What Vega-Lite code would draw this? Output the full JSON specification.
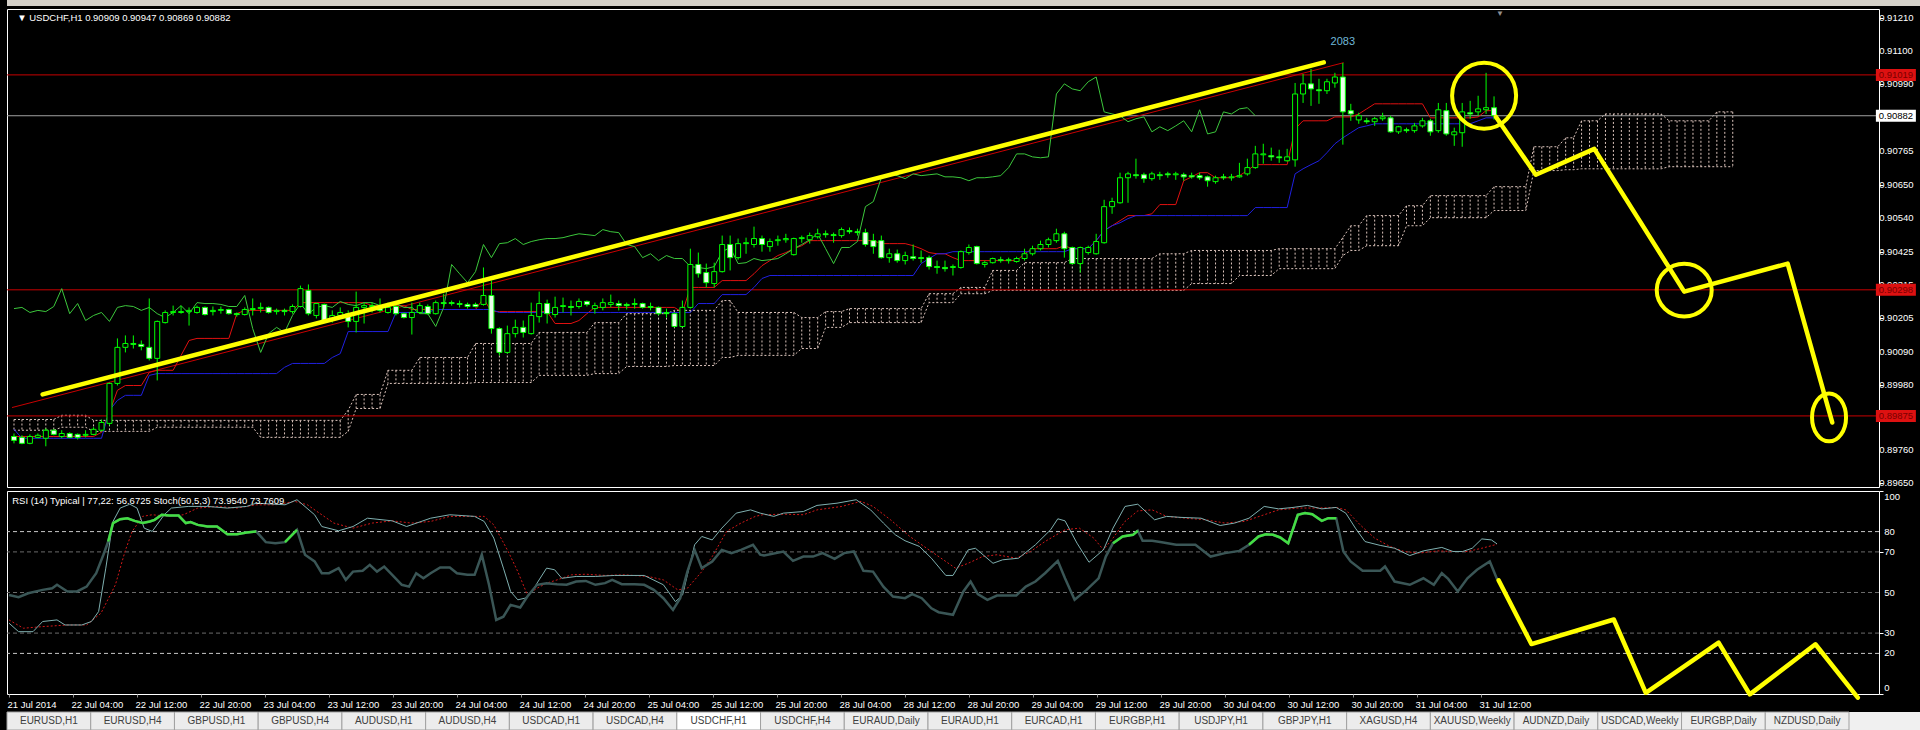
{
  "$schema": "https://vega.github.io/schema/vega-lite/v6.json",
  "description": "USDCHF H1 with Ichimoku, RSI and Stochastic, plus hand-drawn yellow annotations",
  "background": "#000000",
  "padding": {"left": 3, "top": 0, "right": 0, "bottom": 0},
  "spacing": 2,
  "config": {
    "view": {"stroke": null},
    "axis": {"labelFont": "Liberation Sans", "labelFontSize": 9.5, "labelColor": "#ffffff", "domain": false, "grid": false, "labelOverlap": false, "labelBound": false},
    "text": {"font": "Liberation Sans"}
  },
  "datasets": {
    "bars": [
      {"i":0,"o":0.89806,"h":0.89816,"l":0.89783,"c":0.89793,"tk":0.89806,"kj":0.8983,"ck":0.90235},
      {"i":1,"o":0.89803,"h":0.8981,"l":0.8978,"c":0.89783,"tk":0.89806,"kj":0.898,"ck":0.90239},
      {"i":2,"o":0.89783,"h":0.89813,"l":0.8978,"c":0.89806,"tk":0.89806,"kj":0.898,"ck":0.90222},
      {"i":3,"o":0.89803,"h":0.89816,"l":0.898,"c":0.8981,"tk":0.89806,"kj":0.898,"ck":0.90229},
      {"i":4,"o":0.898,"h":0.89833,"l":0.89773,"c":0.89827,"tk":0.89806,"kj":0.898,"ck":0.90225},
      {"i":5,"o":0.89827,"h":0.8983,"l":0.8981,"c":0.89813,"tk":0.89806,"kj":0.898,"ck":0.90242},
      {"i":6,"o":0.89806,"h":0.89827,"l":0.898,"c":0.89816,"tk":0.89806,"kj":0.898,"ck":0.90302},
      {"i":7,"o":0.89816,"h":0.8982,"l":0.898,"c":0.89803,"tk":0.89806,"kj":0.898,"ck":0.90218},
      {"i":8,"o":0.89813,"h":0.89816,"l":0.89796,"c":0.89803,"tk":0.89806,"kj":0.898,"ck":0.90252},
      {"i":9,"o":0.8981,"h":0.89827,"l":0.89803,"c":0.89813,"tk":0.89806,"kj":0.898,"ck":0.90195},
      {"i":10,"o":0.89813,"h":0.89837,"l":0.8981,"c":0.8983,"tk":0.89806,"kj":0.898,"ck":0.90212},
      {"i":11,"o":0.89827,"h":0.89863,"l":0.89823,"c":0.89853,"tk":0.8982,"kj":0.898,"ck":0.90222},
      {"i":12,"o":0.8985,"h":0.89987,"l":0.89843,"c":0.89984,"tk":0.89887,"kj":0.89894,"ck":0.90192},
      {"i":13,"o":0.89984,"h":0.90135,"l":0.89977,"c":0.90105,"tk":0.89961,"kj":0.89927,"ck":0.90239},
      {"i":14,"o":0.90105,"h":0.90145,"l":0.90088,"c":0.90118,"tk":0.89977,"kj":0.89944,"ck":0.90245},
      {"i":15,"o":0.90118,"h":0.90145,"l":0.90101,"c":0.90115,"tk":0.89977,"kj":0.89944,"ck":0.90242},
      {"i":16,"o":0.90115,"h":0.90128,"l":0.90095,"c":0.90108,"tk":0.89977,"kj":0.89944,"ck":0.90229},
      {"i":17,"o":0.90105,"h":0.90269,"l":0.90061,"c":0.90068,"tk":0.90021,"kj":0.90011,"ck":0.90239},
      {"i":18,"o":0.90068,"h":0.90195,"l":0.89994,"c":0.90192,"tk":0.90028,"kj":0.90017,"ck":0.90218},
      {"i":19,"o":0.90188,"h":0.90229,"l":0.90185,"c":0.90222,"tk":0.90028,"kj":0.90017,"ck":0.90205},
      {"i":20,"o":0.90222,"h":0.90245,"l":0.90212,"c":0.90225,"tk":0.90028,"kj":0.90017,"ck":0.90222},
      {"i":21,"o":0.90222,"h":0.90245,"l":0.90218,"c":0.90225,"tk":0.90078,"kj":0.90017,"ck":0.90245},
      {"i":22,"o":0.90225,"h":0.90239,"l":0.90178,"c":0.90229,"tk":0.90128,"kj":0.90017,"ck":0.90218},
      {"i":23,"o":0.90222,"h":0.90245,"l":0.90218,"c":0.90239,"tk":0.90135,"kj":0.90017,"ck":0.90255},
      {"i":24,"o":0.90239,"h":0.90242,"l":0.90212,"c":0.90215,"tk":0.90135,"kj":0.90017,"ck":0.90252},
      {"i":25,"o":0.90225,"h":0.90242,"l":0.90212,"c":0.90229,"tk":0.90135,"kj":0.90017,"ck":0.90252},
      {"i":26,"o":0.90229,"h":0.90242,"l":0.90218,"c":0.90232,"tk":0.90135,"kj":0.90017,"ck":0.90249},
      {"i":27,"o":0.90232,"h":0.90235,"l":0.90215,"c":0.90218,"tk":0.90135,"kj":0.90017,"ck":0.90242},
      {"i":28,"o":0.90218,"h":0.90222,"l":0.90208,"c":0.90215,"tk":0.90218,"kj":0.90017,"ck":0.90242},
      {"i":29,"o":0.90215,"h":0.90239,"l":0.90212,"c":0.90232,"tk":0.90229,"kj":0.90017,"ck":0.90279},
      {"i":30,"o":0.90232,"h":0.90269,"l":0.90212,"c":0.90235,"tk":0.90229,"kj":0.90017,"ck":0.90168},
      {"i":31,"o":0.90235,"h":0.90255,"l":0.90222,"c":0.90239,"tk":0.90229,"kj":0.90017,"ck":0.90088},
      {"i":32,"o":0.90239,"h":0.90242,"l":0.90218,"c":0.90222,"tk":0.90229,"kj":0.90017,"ck":0.90151},
      {"i":33,"o":0.90225,"h":0.90235,"l":0.90215,"c":0.90229,"tk":0.90229,"kj":0.90017,"ck":0.90172},
      {"i":34,"o":0.90229,"h":0.90235,"l":0.90212,"c":0.90225,"tk":0.90229,"kj":0.90038,"ck":0.90155},
      {"i":35,"o":0.90225,"h":0.90249,"l":0.90218,"c":0.90242,"tk":0.90229,"kj":0.90051,"ck":0.90212},
      {"i":36,"o":0.90242,"h":0.90312,"l":0.90239,"c":0.90302,"tk":0.90255,"kj":0.90051,"ck":0.90252},
      {"i":37,"o":0.90296,"h":0.90316,"l":0.90212,"c":0.90218,"tk":0.90255,"kj":0.90051,"ck":0.90218},
      {"i":38,"o":0.90212,"h":0.90255,"l":0.90202,"c":0.90252,"tk":0.90255,"kj":0.90051,"ck":0.90239},
      {"i":39,"o":0.90249,"h":0.90252,"l":0.90188,"c":0.90195,"tk":0.90255,"kj":0.90051,"ck":0.90245},
      {"i":40,"o":0.90202,"h":0.90229,"l":0.90188,"c":0.90212,"tk":0.90255,"kj":0.90071,"ck":0.90239},
      {"i":41,"o":0.90212,"h":0.90239,"l":0.90205,"c":0.90222,"tk":0.90255,"kj":0.90084,"ck":0.90259},
      {"i":42,"o":0.90218,"h":0.90229,"l":0.90172,"c":0.90192,"tk":0.90255,"kj":0.90158,"ck":0.90249},
      {"i":43,"o":0.90192,"h":0.90292,"l":0.90155,"c":0.90239,"tk":0.90255,"kj":0.90158,"ck":0.90245},
      {"i":44,"o":0.90239,"h":0.90255,"l":0.90185,"c":0.90245,"tk":0.90255,"kj":0.90158,"ck":0.90255},
      {"i":45,"o":0.90245,"h":0.90255,"l":0.90222,"c":0.90242,"tk":0.90245,"kj":0.90158,"ck":0.90255},
      {"i":46,"o":0.90235,"h":0.90269,"l":0.90222,"c":0.90229,"tk":0.90245,"kj":0.90158,"ck":0.90245},
      {"i":47,"o":0.90222,"h":0.90255,"l":0.90218,"c":0.90239,"tk":0.90245,"kj":0.90158,"ck":0.90245},
      {"i":48,"o":0.90242,"h":0.90255,"l":0.90212,"c":0.90218,"tk":0.90245,"kj":0.90222,"ck":0.90252},
      {"i":49,"o":0.90218,"h":0.90222,"l":0.90202,"c":0.90205,"tk":0.90245,"kj":0.90222,"ck":0.90239},
      {"i":50,"o":0.90205,"h":0.90255,"l":0.90148,"c":0.90222,"tk":0.90232,"kj":0.90222,"ck":0.90239},
      {"i":51,"o":0.90222,"h":0.90255,"l":0.90218,"c":0.90245,"tk":0.90232,"kj":0.90222,"ck":0.90218},
      {"i":52,"o":0.90242,"h":0.90249,"l":0.90215,"c":0.90218,"tk":0.90232,"kj":0.90222,"ck":0.90218},
      {"i":53,"o":0.90218,"h":0.90262,"l":0.90215,"c":0.90255,"tk":0.90232,"kj":0.90232,"ck":0.90175},
      {"i":54,"o":0.90255,"h":0.90285,"l":0.90239,"c":0.90252,"tk":0.90232,"kj":0.90232,"ck":0.90239},
      {"i":55,"o":0.90255,"h":0.90262,"l":0.90245,"c":0.90252,"tk":0.90232,"kj":0.90232,"ck":0.90383},
      {"i":56,"o":0.90252,"h":0.90262,"l":0.90239,"c":0.90249,"tk":0.90232,"kj":0.90232,"ck":0.90352},
      {"i":57,"o":0.90249,"h":0.90255,"l":0.90235,"c":0.90242,"tk":0.90232,"kj":0.90232,"ck":0.90322},
      {"i":58,"o":0.90249,"h":0.90255,"l":0.90239,"c":0.90242,"tk":0.90232,"kj":0.90232,"ck":0.90359},
      {"i":59,"o":0.90249,"h":0.90373,"l":0.90245,"c":0.90279,"tk":0.90269,"kj":0.90232,"ck":0.9045},
      {"i":60,"o":0.90279,"h":0.90329,"l":0.90151,"c":0.90168,"tk":0.90225,"kj":0.90232,"ck":0.90406},
      {"i":61,"o":0.90168,"h":0.90172,"l":0.90078,"c":0.90088,"tk":0.90225,"kj":0.90222,"ck":0.90453},
      {"i":62,"o":0.90088,"h":0.90178,"l":0.90084,"c":0.90151,"tk":0.90225,"kj":0.90222,"ck":0.90456},
      {"i":63,"o":0.90151,"h":0.90198,"l":0.90138,"c":0.90172,"tk":0.90225,"kj":0.90222,"ck":0.9047},
      {"i":64,"o":0.90172,"h":0.90195,"l":0.90138,"c":0.90155,"tk":0.90225,"kj":0.90222,"ck":0.9045},
      {"i":65,"o":0.90151,"h":0.90255,"l":0.90148,"c":0.90212,"tk":0.90225,"kj":0.90222,"ck":0.9046},
      {"i":66,"o":0.90208,"h":0.90292,"l":0.90188,"c":0.90252,"tk":0.90225,"kj":0.90222,"ck":0.90466},
      {"i":67,"o":0.90252,"h":0.90265,"l":0.90185,"c":0.90218,"tk":0.90225,"kj":0.90222,"ck":0.9047},
      {"i":68,"o":0.90215,"h":0.90275,"l":0.90205,"c":0.90239,"tk":0.90185,"kj":0.90222,"ck":0.9047},
      {"i":69,"o":0.90242,"h":0.90272,"l":0.90222,"c":0.90245,"tk":0.90185,"kj":0.90222,"ck":0.90473},
      {"i":70,"o":0.90242,"h":0.90262,"l":0.90212,"c":0.90239,"tk":0.90185,"kj":0.90222,"ck":0.9048},
      {"i":71,"o":0.90242,"h":0.90269,"l":0.90235,"c":0.90259,"tk":0.90195,"kj":0.90222,"ck":0.90486},
      {"i":72,"o":0.90259,"h":0.90262,"l":0.90242,"c":0.90249,"tk":0.90218,"kj":0.90222,"ck":0.90483},
      {"i":73,"o":0.90235,"h":0.90255,"l":0.90218,"c":0.90245,"tk":0.90239,"kj":0.90222,"ck":0.9048},
      {"i":74,"o":0.90239,"h":0.90269,"l":0.90229,"c":0.90255,"tk":0.90239,"kj":0.90222,"ck":0.905},
      {"i":75,"o":0.90249,"h":0.90282,"l":0.90239,"c":0.90255,"tk":0.90239,"kj":0.90222,"ck":0.90493},
      {"i":76,"o":0.90252,"h":0.90262,"l":0.90229,"c":0.90245,"tk":0.90239,"kj":0.90222,"ck":0.9049},
      {"i":77,"o":0.90249,"h":0.90255,"l":0.90232,"c":0.90245,"tk":0.90239,"kj":0.90222,"ck":0.9045},
      {"i":78,"o":0.90249,"h":0.90269,"l":0.90235,"c":0.90252,"tk":0.90239,"kj":0.90222,"ck":0.90443},
      {"i":79,"o":0.90252,"h":0.90255,"l":0.90235,"c":0.90239,"tk":0.90239,"kj":0.90222,"ck":0.90406},
      {"i":80,"o":0.90242,"h":0.90255,"l":0.90229,"c":0.90239,"tk":0.90239,"kj":0.90222,"ck":0.90419},
      {"i":81,"o":0.90239,"h":0.90242,"l":0.90212,"c":0.90218,"tk":0.90239,"kj":0.90222,"ck":0.90396},
      {"i":82,"o":0.90222,"h":0.90235,"l":0.90205,"c":0.90218,"tk":0.90239,"kj":0.90222,"ck":0.90413},
      {"i":83,"o":0.90218,"h":0.90222,"l":0.90172,"c":0.90175,"tk":0.90239,"kj":0.90222,"ck":0.90403},
      {"i":84,"o":0.90175,"h":0.90262,"l":0.90172,"c":0.90239,"tk":0.90222,"kj":0.90222,"ck":0.90403},
      {"i":85,"o":0.90239,"h":0.90436,"l":0.90235,"c":0.90383,"tk":0.90306,"kj":0.90222,"ck":0.90376},
      {"i":86,"o":0.90383,"h":0.90423,"l":0.90339,"c":0.90352,"tk":0.90306,"kj":0.90252,"ck":0.90373},
      {"i":87,"o":0.90356,"h":0.90386,"l":0.90306,"c":0.90322,"tk":0.90306,"kj":0.90252,"ck":0.90369},
      {"i":88,"o":0.90319,"h":0.90389,"l":0.90306,"c":0.90359,"tk":0.90306,"kj":0.90252,"ck":0.90376},
      {"i":89,"o":0.90359,"h":0.9048,"l":0.90356,"c":0.9045,"tk":0.90329,"kj":0.90282,"ck":0.90426},
      {"i":90,"o":0.9045,"h":0.9048,"l":0.90363,"c":0.90406,"tk":0.90329,"kj":0.90282,"ck":0.9044},
      {"i":91,"o":0.90406,"h":0.9047,"l":0.90399,"c":0.90453,"tk":0.90329,"kj":0.90282,"ck":0.90386},
      {"i":92,"o":0.90453,"h":0.90473,"l":0.90419,"c":0.90456,"tk":0.90329,"kj":0.90282,"ck":0.90389},
      {"i":93,"o":0.9045,"h":0.9051,"l":0.9044,"c":0.9047,"tk":0.90352,"kj":0.90306,"ck":0.90403},
      {"i":94,"o":0.9047,"h":0.9048,"l":0.90426,"c":0.9045,"tk":0.90379,"kj":0.90336,"ck":0.90396},
      {"i":95,"o":0.90443,"h":0.9047,"l":0.90426,"c":0.9046,"tk":0.90396,"kj":0.90346,"ck":0.90399},
      {"i":96,"o":0.90463,"h":0.9048,"l":0.90446,"c":0.90466,"tk":0.90413,"kj":0.90346,"ck":0.90403},
      {"i":97,"o":0.90466,"h":0.90486,"l":0.90456,"c":0.9047,"tk":0.90423,"kj":0.90346,"ck":0.90419},
      {"i":98,"o":0.90416,"h":0.90473,"l":0.90413,"c":0.9047,"tk":0.90436,"kj":0.90346,"ck":0.90436},
      {"i":99,"o":0.9047,"h":0.9048,"l":0.90456,"c":0.90473,"tk":0.90446,"kj":0.90346,"ck":0.9045},
      {"i":100,"o":0.90466,"h":0.9049,"l":0.90453,"c":0.9048,"tk":0.90463,"kj":0.90346,"ck":0.90466},
      {"i":101,"o":0.90476,"h":0.90503,"l":0.9047,"c":0.90486,"tk":0.90463,"kj":0.90346,"ck":0.90486},
      {"i":102,"o":0.90486,"h":0.90497,"l":0.90473,"c":0.90483,"tk":0.90463,"kj":0.90346,"ck":0.90436},
      {"i":103,"o":0.90483,"h":0.9049,"l":0.90456,"c":0.9048,"tk":0.90463,"kj":0.90346,"ck":0.90386},
      {"i":104,"o":0.9048,"h":0.90507,"l":0.90473,"c":0.905,"tk":0.90463,"kj":0.90346,"ck":0.9044},
      {"i":105,"o":0.90497,"h":0.90507,"l":0.90486,"c":0.90493,"tk":0.90463,"kj":0.90346,"ck":0.9044},
      {"i":106,"o":0.90493,"h":0.90503,"l":0.9048,"c":0.9049,"tk":0.90463,"kj":0.90346,"ck":0.9046},
      {"i":107,"o":0.9049,"h":0.90503,"l":0.90443,"c":0.9045,"tk":0.90463,"kj":0.90346,"ck":0.90577},
      {"i":108,"o":0.90463,"h":0.90486,"l":0.90419,"c":0.90443,"tk":0.90463,"kj":0.90346,"ck":0.90594},
      {"i":109,"o":0.90463,"h":0.9048,"l":0.90403,"c":0.90406,"tk":0.90453,"kj":0.90346,"ck":0.90674},
      {"i":110,"o":0.90406,"h":0.90436,"l":0.90389,"c":0.90419,"tk":0.90453,"kj":0.90346,"ck":0.90687},
      {"i":111,"o":0.90419,"h":0.90433,"l":0.90389,"c":0.90396,"tk":0.90453,"kj":0.90346,"ck":0.90681},
      {"i":112,"o":0.90396,"h":0.90426,"l":0.90383,"c":0.90413,"tk":0.90453,"kj":0.90346,"ck":0.90671},
      {"i":113,"o":0.90409,"h":0.9045,"l":0.90396,"c":0.90403,"tk":0.90446,"kj":0.90346,"ck":0.90687},
      {"i":114,"o":0.90406,"h":0.9043,"l":0.90389,"c":0.90403,"tk":0.90436,"kj":0.90386,"ck":0.90681},
      {"i":115,"o":0.90406,"h":0.90413,"l":0.90366,"c":0.90376,"tk":0.90423,"kj":0.90403,"ck":0.90684},
      {"i":116,"o":0.90376,"h":0.90396,"l":0.90352,"c":0.90373,"tk":0.90419,"kj":0.90419,"ck":0.90687},
      {"i":117,"o":0.90373,"h":0.90396,"l":0.90359,"c":0.90369,"tk":0.90419,"kj":0.90419,"ck":0.90677},
      {"i":118,"o":0.90373,"h":0.90383,"l":0.90346,"c":0.90376,"tk":0.90406,"kj":0.90426,"ck":0.90677},
      {"i":119,"o":0.90373,"h":0.9043,"l":0.90369,"c":0.90426,"tk":0.90396,"kj":0.90426,"ck":0.90674},
      {"i":120,"o":0.90423,"h":0.9045,"l":0.90416,"c":0.9044,"tk":0.90396,"kj":0.90426,"ck":0.90664},
      {"i":121,"o":0.90443,"h":0.90446,"l":0.90383,"c":0.90386,"tk":0.90396,"kj":0.90426,"ck":0.90674},
      {"i":122,"o":0.90383,"h":0.90396,"l":0.90373,"c":0.90389,"tk":0.90396,"kj":0.90426,"ck":0.90674},
      {"i":123,"o":0.90389,"h":0.90406,"l":0.90386,"c":0.90403,"tk":0.90396,"kj":0.90426,"ck":0.90677},
      {"i":124,"o":0.90399,"h":0.90409,"l":0.90389,"c":0.90396,"tk":0.90396,"kj":0.90426,"ck":0.90681},
      {"i":125,"o":0.90396,"h":0.90406,"l":0.90386,"c":0.90399,"tk":0.90396,"kj":0.90426,"ck":0.90708},
      {"i":126,"o":0.90393,"h":0.90409,"l":0.90389,"c":0.90403,"tk":0.90396,"kj":0.90426,"ck":0.90754},
      {"i":127,"o":0.90403,"h":0.90436,"l":0.90396,"c":0.90419,"tk":0.90419,"kj":0.90426,"ck":0.90754},
      {"i":128,"o":0.90419,"h":0.90446,"l":0.90413,"c":0.90436,"tk":0.90436,"kj":0.90426,"ck":0.90744},
      {"i":129,"o":0.90436,"h":0.90463,"l":0.9043,"c":0.9045,"tk":0.90436,"kj":0.90426,"ck":0.90741},
      {"i":130,"o":0.9045,"h":0.90473,"l":0.9044,"c":0.90466,"tk":0.90436,"kj":0.90426,"ck":0.90744},
      {"i":131,"o":0.90463,"h":0.90503,"l":0.90456,"c":0.90486,"tk":0.90436,"kj":0.90426,"ck":0.90955},
      {"i":132,"o":0.90486,"h":0.90493,"l":0.90406,"c":0.90436,"tk":0.90446,"kj":0.90426,"ck":0.90989},
      {"i":133,"o":0.9044,"h":0.90443,"l":0.90383,"c":0.90386,"tk":0.90436,"kj":0.90436,"ck":0.90972},
      {"i":134,"o":0.90386,"h":0.90443,"l":0.90356,"c":0.9044,"tk":0.90436,"kj":0.90436,"ck":0.90966},
      {"i":135,"o":0.90423,"h":0.90446,"l":0.90416,"c":0.9044,"tk":0.90436,"kj":0.90436,"ck":0.90996},
      {"i":136,"o":0.90419,"h":0.90486,"l":0.90416,"c":0.9046,"tk":0.90463,"kj":0.90463,"ck":0.91012},
      {"i":137,"o":0.90456,"h":0.906,"l":0.90453,"c":0.90577,"tk":0.90497,"kj":0.90497,"ck":0.90895},
      {"i":138,"o":0.90577,"h":0.90607,"l":0.90553,"c":0.90594,"tk":0.90513,"kj":0.90513,"ck":0.90888},
      {"i":139,"o":0.9059,"h":0.90691,"l":0.90587,"c":0.90674,"tk":0.9053,"kj":0.90523,"ck":0.90882},
      {"i":140,"o":0.90674,"h":0.90694,"l":0.9059,"c":0.90687,"tk":0.90547,"kj":0.90537,"ck":0.90862},
      {"i":141,"o":0.90684,"h":0.90738,"l":0.90671,"c":0.90681,"tk":0.90547,"kj":0.90547,"ck":0.90872},
      {"i":142,"o":0.90684,"h":0.90691,"l":0.90657,"c":0.90671,"tk":0.90547,"kj":0.90547,"ck":0.90878},
      {"i":143,"o":0.90671,"h":0.90694,"l":0.90664,"c":0.90687,"tk":0.90553,"kj":0.90547,"ck":0.90828},
      {"i":144,"o":0.90684,"h":0.90694,"l":0.90667,"c":0.90681,"tk":0.90584,"kj":0.90547,"ck":0.90845},
      {"i":145,"o":0.90687,"h":0.90694,"l":0.90674,"c":0.90684,"tk":0.90584,"kj":0.90547,"ck":0.90832},
      {"i":146,"o":0.90684,"h":0.90694,"l":0.90667,"c":0.90687,"tk":0.90584,"kj":0.90547,"ck":0.90848},
      {"i":147,"o":0.90684,"h":0.90691,"l":0.90664,"c":0.90677,"tk":0.90664,"kj":0.90547,"ck":0.90865},
      {"i":148,"o":0.90681,"h":0.90691,"l":0.90671,"c":0.90677,"tk":0.90677,"kj":0.90547,"ck":0.90828},
      {"i":149,"o":0.90681,"h":0.90691,"l":0.90667,"c":0.90674,"tk":0.90691,"kj":0.90547,"ck":0.90902},
      {"i":150,"o":0.90677,"h":0.90681,"l":0.90644,"c":0.90664,"tk":0.90691,"kj":0.90547,"ck":0.90821},
      {"i":151,"o":0.90661,"h":0.90681,"l":0.90654,"c":0.90674,"tk":0.90674,"kj":0.90547,"ck":0.90828},
      {"i":152,"o":0.90677,"h":0.90687,"l":0.90667,"c":0.90674,"tk":0.90674,"kj":0.90547,"ck":0.90895},
      {"i":153,"o":0.90674,"h":0.90687,"l":0.90664,"c":0.90677,"tk":0.90674,"kj":0.90547,"ck":0.90888},
      {"i":154,"o":0.90677,"h":0.90724,"l":0.90674,"c":0.90681,"tk":0.90681,"kj":0.90547,"ck":0.90905},
      {"i":155,"o":0.90687,"h":0.90738,"l":0.90681,"c":0.90708,"tk":0.90698,"kj":0.90547,"ck":0.90909},
      {"i":156,"o":0.90708,"h":0.90781,"l":0.90704,"c":0.90754,"tk":0.90718,"kj":0.90574,"ck":0.90882},
      {"i":157,"o":0.90751,"h":0.90788,"l":0.90721,"c":0.90754,"tk":0.90718,"kj":0.90574},
      {"i":158,"o":0.90748,"h":0.90775,"l":0.90731,"c":0.90744,"tk":0.90718,"kj":0.90574},
      {"i":159,"o":0.90744,"h":0.90768,"l":0.90724,"c":0.90741,"tk":0.90718,"kj":0.90574},
      {"i":160,"o":0.90731,"h":0.90771,"l":0.90728,"c":0.90744,"tk":0.90718,"kj":0.90574},
      {"i":161,"o":0.90734,"h":0.90992,"l":0.90711,"c":0.90955,"tk":0.90838,"kj":0.90687},
      {"i":162,"o":0.90955,"h":0.91022,"l":0.90925,"c":0.90989,"tk":0.90865,"kj":0.90704},
      {"i":163,"o":0.90989,"h":0.91039,"l":0.90915,"c":0.90972,"tk":0.90865,"kj":0.90718},
      {"i":164,"o":0.90969,"h":0.91006,"l":0.90922,"c":0.90966,"tk":0.90865,"kj":0.90731},
      {"i":165,"o":0.90966,"h":0.91006,"l":0.90955,"c":0.90996,"tk":0.90865,"kj":0.90758},
      {"i":166,"o":0.90992,"h":0.91026,"l":0.90976,"c":0.91012,"tk":0.90878,"kj":0.90788},
      {"i":167,"o":0.91012,"h":0.91059,"l":0.90785,"c":0.90895,"tk":0.90878,"kj":0.90808},
      {"i":168,"o":0.90899,"h":0.90922,"l":0.90865,"c":0.90888,"tk":0.90878,"kj":0.90825},
      {"i":169,"o":0.90868,"h":0.90892,"l":0.90855,"c":0.90882,"tk":0.90888,"kj":0.90842},
      {"i":170,"o":0.90865,"h":0.90875,"l":0.90855,"c":0.90862,"tk":0.90905,"kj":0.90848},
      {"i":171,"o":0.90862,"h":0.90878,"l":0.90848,"c":0.90872,"tk":0.90922,"kj":0.90855},
      {"i":172,"o":0.90872,"h":0.90892,"l":0.90865,"c":0.90878,"tk":0.90922,"kj":0.90855},
      {"i":173,"o":0.90875,"h":0.90882,"l":0.90825,"c":0.90828,"tk":0.90922,"kj":0.90855},
      {"i":174,"o":0.90828,"h":0.90848,"l":0.90821,"c":0.90845,"tk":0.90922,"kj":0.90855},
      {"i":175,"o":0.90835,"h":0.90842,"l":0.90825,"c":0.90832,"tk":0.90922,"kj":0.90855},
      {"i":176,"o":0.90832,"h":0.90858,"l":0.90825,"c":0.90848,"tk":0.90922,"kj":0.90855},
      {"i":177,"o":0.90848,"h":0.90875,"l":0.90842,"c":0.90865,"tk":0.90922,"kj":0.90855},
      {"i":178,"o":0.90865,"h":0.90872,"l":0.90815,"c":0.90828,"tk":0.90875,"kj":0.90855},
      {"i":179,"o":0.90832,"h":0.90925,"l":0.90825,"c":0.90902,"tk":0.90875,"kj":0.90855},
      {"i":180,"o":0.90899,"h":0.90925,"l":0.90815,"c":0.90821,"tk":0.90875,"kj":0.90855},
      {"i":181,"o":0.90818,"h":0.90842,"l":0.90781,"c":0.90828,"tk":0.90875,"kj":0.90855},
      {"i":182,"o":0.90825,"h":0.90925,"l":0.90778,"c":0.90895,"tk":0.90875,"kj":0.90855},
      {"i":183,"o":0.90892,"h":0.90932,"l":0.90872,"c":0.90888,"tk":0.90875,"kj":0.90855},
      {"i":184,"o":0.90895,"h":0.90949,"l":0.90882,"c":0.90905,"tk":0.90878,"kj":0.90865},
      {"i":185,"o":0.90902,"h":0.91026,"l":0.90888,"c":0.90909,"tk":0.90899,"kj":0.90875},
      {"i":186,"o":0.90909,"h":0.90947,"l":0.90869,"c":0.90882,"tk":0.90899,"kj":0.90875}
    ],
    "cloud": [
      {"i":0,"a":0.89863,"b":0.89827},{"i":1,"a":0.89863,"b":0.89827},{"i":2,"a":0.89863,"b":0.89827},{"i":3,"a":0.89863,"b":0.89827},{"i":4,"a":0.89863,"b":0.89827},{"i":5,"a":0.89863,"b":0.89827},
      {"i":6,"a":0.89877,"b":0.89837},{"i":7,"a":0.89877,"b":0.89837},{"i":8,"a":0.89877,"b":0.89837},{"i":9,"a":0.89877,"b":0.89837},
      {"i":10,"a":0.8986,"b":0.89823},{"i":11,"a":0.8986,"b":0.89823},{"i":12,"a":0.8986,"b":0.89823},{"i":13,"a":0.8986,"b":0.89823},{"i":14,"a":0.8986,"b":0.89823},{"i":15,"a":0.8986,"b":0.89823},{"i":16,"a":0.8986,"b":0.89823},{"i":17,"a":0.8986,"b":0.89823},
      {"i":18,"a":0.8986,"b":0.89837},{"i":19,"a":0.8986,"b":0.89837},{"i":20,"a":0.8986,"b":0.89837},{"i":21,"a":0.8986,"b":0.89837},{"i":22,"a":0.8986,"b":0.89837},{"i":23,"a":0.8986,"b":0.89837},{"i":24,"a":0.8986,"b":0.89837},{"i":25,"a":0.8986,"b":0.89837},{"i":26,"a":0.8986,"b":0.89837},{"i":27,"a":0.8986,"b":0.89837},{"i":28,"a":0.8986,"b":0.89837},{"i":29,"a":0.8986,"b":0.89837},{"i":30,"a":0.8986,"b":0.89837},
      {"i":31,"a":0.8986,"b":0.89803},{"i":32,"a":0.8986,"b":0.89803},{"i":33,"a":0.8986,"b":0.89803},{"i":34,"a":0.8986,"b":0.89803},{"i":35,"a":0.8986,"b":0.89803},{"i":36,"a":0.8986,"b":0.89803},{"i":37,"a":0.8986,"b":0.89803},{"i":38,"a":0.8986,"b":0.89803},{"i":39,"a":0.8986,"b":0.89803},{"i":40,"a":0.8986,"b":0.89803},{"i":41,"a":0.8986,"b":0.89803},
      {"i":42,"a":0.89894,"b":0.89823},
      {"i":43,"a":0.89947,"b":0.899},{"i":44,"a":0.89947,"b":0.899},{"i":45,"a":0.89947,"b":0.899},{"i":46,"a":0.89947,"b":0.899},
      {"i":47,"a":0.90028,"b":0.89984},{"i":48,"a":0.90028,"b":0.89984},{"i":49,"a":0.90028,"b":0.89984},{"i":50,"a":0.90028,"b":0.89984},
      {"i":51,"a":0.90071,"b":0.89984},{"i":52,"a":0.90071,"b":0.89984},{"i":53,"a":0.90071,"b":0.89984},{"i":54,"a":0.90071,"b":0.89984},{"i":55,"a":0.90071,"b":0.89984},{"i":56,"a":0.90071,"b":0.89984},{"i":57,"a":0.90071,"b":0.89984},
      {"i":58,"a":0.90118,"b":0.89987},{"i":59,"a":0.90118,"b":0.89987},{"i":60,"a":0.90118,"b":0.89987},{"i":61,"a":0.90118,"b":0.89987},{"i":62,"a":0.90118,"b":0.89987},{"i":63,"a":0.90118,"b":0.89987},{"i":64,"a":0.90118,"b":0.89987},{"i":65,"a":0.90118,"b":0.89987},
      {"i":66,"a":0.90155,"b":0.90011},{"i":67,"a":0.90155,"b":0.90011},{"i":68,"a":0.90155,"b":0.90011},{"i":69,"a":0.90155,"b":0.90011},{"i":70,"a":0.90155,"b":0.90011},{"i":71,"a":0.90155,"b":0.90011},{"i":72,"a":0.90155,"b":0.90011},
      {"i":73,"a":0.90188,"b":0.90017},{"i":74,"a":0.90188,"b":0.90017},{"i":75,"a":0.90188,"b":0.90017},{"i":76,"a":0.90188,"b":0.90017},
      {"i":77,"a":0.90218,"b":0.90041},{"i":78,"a":0.90218,"b":0.90041},{"i":79,"a":0.90218,"b":0.90041},{"i":80,"a":0.90218,"b":0.90041},{"i":81,"a":0.90218,"b":0.90041},{"i":82,"a":0.90218,"b":0.90041},
      {"i":83,"a":0.90229,"b":0.90044},{"i":84,"a":0.90229,"b":0.90044},{"i":85,"a":0.90229,"b":0.90044},{"i":86,"a":0.90229,"b":0.90044},{"i":87,"a":0.90229,"b":0.90044},{"i":88,"a":0.90229,"b":0.90044},
      {"i":89,"a":0.90262,"b":0.90071},{"i":90,"a":0.90262,"b":0.90071},
      {"i":91,"a":0.90222,"b":0.90078},{"i":92,"a":0.90222,"b":0.90078},{"i":93,"a":0.90222,"b":0.90078},{"i":94,"a":0.90222,"b":0.90078},{"i":95,"a":0.90222,"b":0.90078},{"i":96,"a":0.90222,"b":0.90078},{"i":97,"a":0.90222,"b":0.90078},{"i":98,"a":0.90222,"b":0.90078},
      {"i":99,"a":0.90205,"b":0.90101},{"i":100,"a":0.90205,"b":0.90101},{"i":101,"a":0.90205,"b":0.90101},
      {"i":102,"a":0.90225,"b":0.90172},{"i":103,"a":0.90225,"b":0.90172},{"i":104,"a":0.90225,"b":0.90172},
      {"i":105,"a":0.90235,"b":0.90188},{"i":106,"a":0.90235,"b":0.90188},{"i":107,"a":0.90235,"b":0.90188},{"i":108,"a":0.90235,"b":0.90188},{"i":109,"a":0.90235,"b":0.90188},{"i":110,"a":0.90235,"b":0.90188},{"i":111,"a":0.90235,"b":0.90188},{"i":112,"a":0.90235,"b":0.90188},{"i":113,"a":0.90235,"b":0.90188},{"i":114,"a":0.90235,"b":0.90188},
      {"i":115,"a":0.90285,"b":0.90255},{"i":116,"a":0.90285,"b":0.90255},{"i":117,"a":0.90285,"b":0.90255},{"i":118,"a":0.90285,"b":0.90255},
      {"i":119,"a":0.90306,"b":0.90285},{"i":120,"a":0.90306,"b":0.90285},{"i":121,"a":0.90306,"b":0.90285},{"i":122,"a":0.90306,"b":0.90285},
      {"i":123,"a":0.90363,"b":0.90296},{"i":124,"a":0.90363,"b":0.90296},{"i":125,"a":0.90363,"b":0.90296},{"i":126,"a":0.90363,"b":0.90296},
      {"i":127,"a":0.90389,"b":0.90296},{"i":128,"a":0.90389,"b":0.90296},{"i":129,"a":0.90389,"b":0.90296},{"i":130,"a":0.90389,"b":0.90296},{"i":131,"a":0.90389,"b":0.90296},{"i":132,"a":0.90389,"b":0.90296},
      {"i":133,"a":0.90403,"b":0.90296},{"i":134,"a":0.90403,"b":0.90296},{"i":135,"a":0.90403,"b":0.90296},{"i":136,"a":0.90403,"b":0.90296},{"i":137,"a":0.90403,"b":0.90296},{"i":138,"a":0.90403,"b":0.90296},{"i":139,"a":0.90403,"b":0.90296},{"i":140,"a":0.90403,"b":0.90296},{"i":141,"a":0.90403,"b":0.90296},{"i":142,"a":0.90403,"b":0.90296},{"i":143,"a":0.90403,"b":0.90296},
      {"i":144,"a":0.90419,"b":0.90296},{"i":145,"a":0.90419,"b":0.90296},{"i":146,"a":0.90419,"b":0.90296},{"i":147,"a":0.90419,"b":0.90296},
      {"i":148,"a":0.9043,"b":0.90319},{"i":149,"a":0.9043,"b":0.90319},{"i":150,"a":0.9043,"b":0.90319},{"i":151,"a":0.9043,"b":0.90319},{"i":152,"a":0.9043,"b":0.90319},{"i":153,"a":0.9043,"b":0.90319},
      {"i":154,"a":0.9043,"b":0.90346},{"i":155,"a":0.9043,"b":0.90346},{"i":156,"a":0.9043,"b":0.90346},{"i":157,"a":0.9043,"b":0.90346},{"i":158,"a":0.9043,"b":0.90346},
      {"i":159,"a":0.90436,"b":0.90369},{"i":160,"a":0.90436,"b":0.90369},{"i":161,"a":0.90436,"b":0.90369},{"i":162,"a":0.90436,"b":0.90369},{"i":163,"a":0.90436,"b":0.90369},{"i":164,"a":0.90436,"b":0.90369},{"i":165,"a":0.90436,"b":0.90369},{"i":166,"a":0.90436,"b":0.90369},
      {"i":167,"a":0.90473,"b":0.90413},
      {"i":168,"a":0.90513,"b":0.9043},{"i":169,"a":0.90513,"b":0.9043},
      {"i":170,"a":0.90547,"b":0.90446},{"i":171,"a":0.90547,"b":0.90446},{"i":172,"a":0.90547,"b":0.90446},{"i":173,"a":0.90547,"b":0.90446},{"i":174,"a":0.90547,"b":0.90446},
      {"i":175,"a":0.9058,"b":0.90513},{"i":176,"a":0.9058,"b":0.90513},{"i":177,"a":0.9058,"b":0.90513},
      {"i":178,"a":0.90614,"b":0.9054},{"i":179,"a":0.90614,"b":0.9054},{"i":180,"a":0.90614,"b":0.9054},{"i":181,"a":0.90614,"b":0.9054},{"i":182,"a":0.90614,"b":0.9054},{"i":183,"a":0.90614,"b":0.9054},{"i":184,"a":0.90614,"b":0.9054},{"i":185,"a":0.90614,"b":0.9054},
      {"i":186,"a":0.90644,"b":0.90564},{"i":187,"a":0.90644,"b":0.90564},{"i":188,"a":0.90644,"b":0.90564},{"i":189,"a":0.90644,"b":0.90564},{"i":190,"a":0.90644,"b":0.90564},
      {"i":191,"a":0.90778,"b":0.90698},{"i":192,"a":0.90778,"b":0.90698},{"i":193,"a":0.90778,"b":0.90698},{"i":194,"a":0.90778,"b":0.90698},
      {"i":195,"a":0.90808,"b":0.90701},{"i":196,"a":0.90808,"b":0.90701},
      {"i":197,"a":0.90865,"b":0.90704},{"i":198,"a":0.90865,"b":0.90704},{"i":199,"a":0.90865,"b":0.90704},
      {"i":200,"a":0.90888,"b":0.90704},{"i":201,"a":0.90888,"b":0.90704},{"i":202,"a":0.90888,"b":0.90704},{"i":203,"a":0.90888,"b":0.90704},{"i":204,"a":0.90888,"b":0.90704},{"i":205,"a":0.90888,"b":0.90704},{"i":206,"a":0.90888,"b":0.90704},{"i":207,"a":0.90888,"b":0.90704},
      {"i":208,"a":0.90865,"b":0.90711},{"i":209,"a":0.90865,"b":0.90711},{"i":210,"a":0.90865,"b":0.90711},{"i":211,"a":0.90865,"b":0.90711},{"i":212,"a":0.90865,"b":0.90711},{"i":213,"a":0.90865,"b":0.90711},
      {"i":214,"a":0.90895,"b":0.90711},{"i":215,"a":0.90895,"b":0.90711},{"i":216,"a":0.90895,"b":0.90711}
    ],
    "rsi": [
      {"i":0,"v":48.8},{"i":1.2,"v":47.7},{"i":2.4,"v":49.6},{"i":4.2,"v":51.3},{"i":5.4,"v":52.1},{"i":6,"v":53.8},{"i":7.3,"v":50.5},{"i":8.5,"v":50.5},{"i":9.7,"v":52.9},{"i":10.9,"v":59.5},{"i":11.8,"v":68.6},{"i":12.4,"v":75.1},{"i":13,"v":84.2},{"i":13.9,"v":86.1},{"i":14.8,"v":86.6},{"i":15.7,"v":85.3},{"i":16.7,"v":84.2},{"i":17.6,"v":85},{"i":18.2,"v":85.8},{"i":19.1,"v":88.3},{"i":20,"v":87.9},{"i":21.2,"v":87.9},{"i":22.1,"v":84.2},{"i":22.7,"v":84.7},{"i":23.6,"v":83.3},{"i":24.8,"v":82.5},{"i":26,"v":82.5},{"i":27.3,"v":78.7},{"i":28.5,"v":78.7},{"i":29.7,"v":79.6},{"i":30.9,"v":80.1},{"i":32.1,"v":74.8},{"i":33.3,"v":74.3},{"i":34.5,"v":74.8},{"i":36,"v":80.9},{"i":37,"v":68.6},{"i":38.2,"v":65.3},{"i":39.1,"v":59.5},{"i":40,"v":59.5},{"i":41.2,"v":62},{"i":42.1,"v":56.2},{"i":43,"v":60.3},{"i":44.2,"v":60.7},{"i":45.1,"v":63.6},{"i":46,"v":60.3},{"i":46.9,"v":62.8},{"i":47.9,"v":58.7},{"i":49.1,"v":53.8},{"i":50,"v":52.9},{"i":50.9,"v":59.5},{"i":51.8,"v":57},{"i":52.7,"v":59.5},{"i":53.9,"v":62.3},{"i":55.1,"v":62.3},{"i":56,"v":59.5},{"i":57.3,"v":58.7},{"i":58.2,"v":58.7},{"i":59.1,"v":68.6},{"i":60,"v":53.8},{"i":60.9,"v":36.5},{"i":61.8,"v":38.1},{"i":62.7,"v":43.9},{"i":63.9,"v":42.6},{"i":64.8,"v":48},{"i":66,"v":53.8},{"i":67.2,"v":54.6},{"i":68.5,"v":54.1},{"i":69.7,"v":53.8},{"i":70.9,"v":55.4},{"i":72.1,"v":55.7},{"i":73.3,"v":53.8},{"i":74.5,"v":54.6},{"i":75.4,"v":56.2},{"i":76.6,"v":54.1},{"i":78.2,"v":54.1},{"i":79.4,"v":53.8},{"i":80.6,"v":51.3},{"i":81.8,"v":47.2},{"i":83,"v":41.4},{"i":83.9,"v":47.2},{"i":84.8,"v":60.3},{"i":85.7,"v":71},{"i":86.6,"v":62},{"i":87.9,"v":65.3},{"i":89.1,"v":71},{"i":90.3,"v":69.4},{"i":91.5,"v":71},{"i":93,"v":73.5},{"i":93.9,"v":68.6},{"i":94.4,"v":68.2},{"i":96.8,"v":70.2},{"i":98,"v":65.6},{"i":99.3,"v":67.7},{"i":100.5,"v":67.7},{"i":101.7,"v":69.4},{"i":103.2,"v":66.6},{"i":104.4,"v":69.4},{"i":105.6,"v":70.2},{"i":106.8,"v":60.7},{"i":108,"v":60.3},{"i":109.3,"v":52.9},{"i":110.5,"v":48},{"i":112,"v":47.2},{"i":112.9,"v":49.2},{"i":114.1,"v":47.2},{"i":115.3,"v":42.2},{"i":116.2,"v":40.3},{"i":118,"v":39},{"i":119.3,"v":50.5},{"i":120.2,"v":55.4},{"i":121.1,"v":49.2},{"i":122.3,"v":46.4},{"i":123.5,"v":48.5},{"i":125.9,"v":48.5},{"i":127.1,"v":52.9},{"i":128.3,"v":55.4},{"i":129.5,"v":59.5},{"i":131.1,"v":65.6},{"i":132,"v":57},{"i":133.2,"v":46.4},{"i":134.7,"v":51.3},{"i":136.2,"v":57},{"i":137.1,"v":67.7},{"i":138,"v":74.3},{"i":139.2,"v":77.6},{"i":140.5,"v":78.4},{"i":141.1,"v":80.4},{"i":141.7,"v":75.5},{"i":142.9,"v":75.5},{"i":144.1,"v":74.8},{"i":145.9,"v":73.5},{"i":148.3,"v":73.5},{"i":150.2,"v":67.7},{"i":152,"v":69.4},{"i":153.8,"v":70.5},{"i":155,"v":73.5},{"i":156.2,"v":77.6},{"i":157.1,"v":78.7},{"i":158,"v":78.4},{"i":158.9,"v":77.1},{"i":159.9,"v":74.3},{"i":161.1,"v":88.3},{"i":162,"v":89.1},{"i":162.9,"v":88.6},{"i":164.1,"v":85.3},{"i":164.9,"v":86.6},{"i":165.9,"v":86.6},{"i":166.8,"v":70.2},{"i":167.7,"v":65.3},{"i":169.2,"v":60.7},{"i":171.4,"v":60.7},{"i":172,"v":62.8},{"i":173.2,"v":55.4},{"i":175.1,"v":53.8},{"i":176.8,"v":57},{"i":178.1,"v":53.8},{"i":179.1,"v":59.5},{"i":179.9,"v":56.7},{"i":181.1,"v":50.5},{"i":182.3,"v":57},{"i":183.5,"v":61.2},{"i":185.1,"v":65.3},{"i":186,"v":56.7}
    ],
    "rsihi": [
      {"s":"a","i":12.4,"v":75.1},{"s":"a","i":13,"v":84.2},{"s":"a","i":13.9,"v":86.1},{"s":"a","i":14.8,"v":86.6},{"s":"a","i":15.7,"v":85.3},{"s":"a","i":16.7,"v":84.2},{"s":"a","i":17.6,"v":85},{"s":"a","i":18.2,"v":85.8},{"s":"a","i":19.1,"v":88.3},{"s":"a","i":20,"v":87.9},{"s":"a","i":21.2,"v":87.9},{"s":"a","i":22.1,"v":84.2},{"s":"a","i":22.7,"v":84.7},{"s":"a","i":23.6,"v":83.3},{"s":"a","i":24.8,"v":82.5},{"s":"a","i":26,"v":82.5},{"s":"a","i":27.3,"v":78.7},{"s":"a","i":28.5,"v":78.7},{"s":"a","i":29.7,"v":79.6},{"s":"a","i":30.9,"v":80.1},
      {"s":"b","i":34.5,"v":74.8},{"s":"b","i":36,"v":80.9},
      {"s":"c","i":138,"v":74.3},{"s":"c","i":139.2,"v":77.6},{"s":"c","i":140.5,"v":78.4},{"s":"c","i":141.1,"v":80.4},
      {"s":"d","i":155,"v":73.5},{"s":"d","i":156.2,"v":77.6},{"s":"d","i":157.1,"v":78.7},{"s":"d","i":158,"v":78.4},{"s":"d","i":158.9,"v":77.1},{"s":"d","i":159.9,"v":74.3},{"s":"d","i":161.1,"v":88.3},{"s":"d","i":162,"v":89.1},{"s":"d","i":162.9,"v":88.6},{"s":"d","i":164.1,"v":85.3},{"s":"d","i":164.9,"v":86.6},{"s":"d","i":165.9,"v":86.6}
    ],
    "stm": [
      {"i":0,"v":34.9},{"i":1.2,"v":30.7},{"i":3,"v":30.7},{"i":4.2,"v":35.7},{"i":6,"v":36.5},{"i":7,"v":34},{"i":9.1,"v":34},{"i":10.3,"v":35.7},{"i":11.2,"v":40.6},{"i":12.1,"v":62},{"i":13,"v":85},{"i":13.9,"v":91.6},{"i":15.1,"v":93.5},{"i":16,"v":91.6},{"i":16.9,"v":81.7},{"i":17.9,"v":80.1},{"i":19.4,"v":88.3},{"i":20.3,"v":91.6},{"i":22.4,"v":92.4},{"i":24.8,"v":92.4},{"i":27.3,"v":91.6},{"i":29.7,"v":92.4},{"i":30.9,"v":94},{"i":34.5,"v":93.2},{"i":36,"v":95.7},{"i":38.2,"v":88.3},{"i":39.1,"v":82.5},{"i":41.2,"v":80.4},{"i":43,"v":82.5},{"i":44.8,"v":86.6},{"i":47.9,"v":85.3},{"i":49.7,"v":82.5},{"i":52.7,"v":86.6},{"i":55.1,"v":88.3},{"i":58.2,"v":87.5},{"i":59.4,"v":85},{"i":60.6,"v":76.8},{"i":61.8,"v":62},{"i":62.7,"v":50.5},{"i":63.6,"v":46.4},{"i":64.5,"v":47.2},{"i":65.4,"v":50.5},{"i":66,"v":54.6},{"i":67.2,"v":62},{"i":68.2,"v":61.2},{"i":69.1,"v":57},{"i":70.9,"v":57.9},{"i":73.3,"v":57.9},{"i":75.7,"v":58.4},{"i":79.4,"v":58.4},{"i":81.8,"v":53.8},{"i":83.3,"v":45.5},{"i":84.2,"v":48.8},{"i":85.7,"v":73.5},{"i":86.6,"v":77.6},{"i":87.9,"v":75.9},{"i":89.1,"v":81.7},{"i":90.9,"v":89.1},{"i":92.7,"v":90.7},{"i":93.9,"v":89.1},{"i":95.6,"v":87.5},{"i":96.8,"v":89.1},{"i":99.3,"v":89.9},{"i":101,"v":92.9},{"i":103.5,"v":94},{"i":105.9,"v":95.7},{"i":107.7,"v":90.7},{"i":109.3,"v":84.2},{"i":110.8,"v":78.4},{"i":112,"v":75.5},{"i":113.8,"v":72.7},{"i":115.3,"v":66.9},{"i":117.1,"v":58.4},{"i":118,"v":58.4},{"i":119.9,"v":71},{"i":120.8,"v":71.8},{"i":123,"v":64.4},{"i":124.2,"v":66.1},{"i":126.2,"v":66.9},{"i":128.3,"v":73.5},{"i":130.2,"v":80.9},{"i":131.1,"v":86.3},{"i":132,"v":85.3},{"i":133.5,"v":74.3},{"i":135,"v":64.9},{"i":136.8,"v":71},{"i":138,"v":81.7},{"i":139.5,"v":92.4},{"i":141.1,"v":93.5},{"i":142.3,"v":89.1},{"i":143.2,"v":85.8},{"i":144.7,"v":87.5},{"i":146.5,"v":87},{"i":149,"v":86.6},{"i":151.4,"v":83},{"i":153.2,"v":84.2},{"i":155,"v":86.6},{"i":156.9,"v":92.4},{"i":158.7,"v":91.2},{"i":160.5,"v":91.9},{"i":162.3,"v":92.9},{"i":164.1,"v":91.2},{"i":165.9,"v":91.9},{"i":167.1,"v":89.1},{"i":168.3,"v":81.7},{"i":169.5,"v":75.1},{"i":171.4,"v":73.2},{"i":173.2,"v":71.8},{"i":175.1,"v":68.2},{"i":176.8,"v":70.5},{"i":179.1,"v":72.2},{"i":180.5,"v":70.2},{"i":181.7,"v":70.2},{"i":182.9,"v":71.8},{"i":184.1,"v":76.4},{"i":185.3,"v":75.9},{"i":186,"v":73.95}
    ],
    "sts": [
      {"i":0,"v":36.5},{"i":1.8,"v":32.4},{"i":4.2,"v":33.2},{"i":7.3,"v":34},{"i":9.7,"v":34},{"i":11.5,"v":39.8},{"i":13.3,"v":53.8},{"i":14.5,"v":70.2},{"i":15.4,"v":80.1},{"i":16.7,"v":87.5},{"i":17.9,"v":88.3},{"i":20,"v":87.5},{"i":21.8,"v":88.3},{"i":23.6,"v":91.6},{"i":26,"v":92.4},{"i":28.5,"v":91.6},{"i":30.9,"v":93.2},{"i":33.3,"v":93.2},{"i":35.7,"v":94.9},{"i":37.3,"v":93.2},{"i":38.8,"v":89.1},{"i":40.6,"v":84.2},{"i":43,"v":81.7},{"i":45.4,"v":84.2},{"i":47.9,"v":85.3},{"i":50.3,"v":84.2},{"i":52.7,"v":85},{"i":55.1,"v":87.5},{"i":57.6,"v":87.5},{"i":59.4,"v":87.5},{"i":60.6,"v":83.3},{"i":62.4,"v":70.2},{"i":63.6,"v":60.3},{"i":64.8,"v":48.8},{"i":66,"v":52.1},{"i":67.2,"v":54.6},{"i":68.5,"v":56.2},{"i":70.3,"v":58.7},{"i":72.1,"v":59},{"i":74.5,"v":58.4},{"i":76.9,"v":58.7},{"i":79.9,"v":57.9},{"i":81.8,"v":56.2},{"i":83.6,"v":51.3},{"i":84.8,"v":52.1},{"i":86.6,"v":60.3},{"i":87.9,"v":67.7},{"i":89.7,"v":80.1},{"i":91.5,"v":84.2},{"i":93.3,"v":87.5},{"i":94.2,"v":88.3},{"i":96.8,"v":88.6},{"i":99.3,"v":88.3},{"i":101,"v":90.7},{"i":104.1,"v":92.4},{"i":106.5,"v":94.9},{"i":108,"v":92.4},{"i":110.2,"v":85.8},{"i":112.6,"v":77.6},{"i":115,"v":71},{"i":116.8,"v":66.1},{"i":118.3,"v":62},{"i":119.9,"v":64.4},{"i":121.7,"v":67.7},{"i":123.5,"v":68.6},{"i":125.9,"v":66.9},{"i":127.7,"v":70.2},{"i":129.5,"v":75.1},{"i":132,"v":80.9},{"i":133.8,"v":81.7},{"i":135.6,"v":76.8},{"i":136.8,"v":71},{"i":138,"v":76.8},{"i":139.5,"v":85},{"i":141.1,"v":90.2},{"i":142.9,"v":90.7},{"i":144.7,"v":87.5},{"i":147.1,"v":86.6},{"i":149.6,"v":85.8},{"i":152,"v":84.2},{"i":154.4,"v":85},{"i":156.9,"v":88.3},{"i":158.7,"v":90.7},{"i":161.1,"v":91.6},{"i":163.5,"v":91.6},{"i":165.9,"v":91.9},{"i":167.1,"v":90.7},{"i":168.9,"v":83.3},{"i":170.7,"v":76.8},{"i":172.6,"v":72.7},{"i":174.4,"v":70.2},{"i":176.2,"v":69.4},{"i":178.6,"v":70.5},{"i":180.5,"v":70.2},{"i":182.3,"v":70.2},{"i":184.1,"v":71.8},{"i":186,"v":73.76}
    ],
    "tabs": [
      {"t":"EURUSD,H1"},{"t":"EURUSD,H4"},{"t":"GBPUSD,H1"},{"t":"GBPUSD,H4"},{"t":"AUDUSD,H1"},{"t":"AUDUSD,H4"},{"t":"USDCAD,H1"},{"t":"USDCAD,H4"},{"t":"USDCHF,H1"},{"t":"USDCHF,H4"},{"t":"EURAUD,Daily"},{"t":"EURAUD,H1"},{"t":"EURCAD,H1"},{"t":"EURGBP,H1"},{"t":"USDJPY,H1"},{"t":"GBPJPY,H1"},{"t":"XAGUSD,H4"},{"t":"XAUUSD,Weekly"},{"t":"AUDNZD,Daily"},{"t":"USDCAD,Weekly"},{"t":"EURGBP,Daily"},{"t":"NZDUSD,Daily"}
    ]
  },
  "vconcat": [
    {
      "width": 1917,
      "height": 6,
      "view": {"fill": "#d4d0c8", "stroke": null},
      "data": {"values": [{"t": ""}]},
      "mark": {"type": "text", "fontSize": 1},
      "encoding": {"text": {"field": "t"}}
    },
    {
      "width": 1872,
      "height": 478,
      "view": {"fill": "#000000", "stroke": "#ffffff", "strokeWidth": 1},
      "layer": [
        {
          "data": {"name": "cloud"},
          "mark": {"type": "rule", "color": "#dcc4bc", "strokeDash": [2, 2], "strokeWidth": 1},
          "encoding": {
            "x": {"field": "i", "type": "quantitative", "scale": {"domain": [-0.25, 233.75], "nice": false, "zero": false}, "axis": null},
            "y": {"field": "a", "type": "quantitative", "title": null, "scale": {"domain": [0.896365, 0.912401], "nice": false, "zero": false},
                  "axis": {"orient": "right", "values": [0.9121, 0.911, 0.9099, 0.90765, 0.9065, 0.9054, 0.90425, 0.90315, 0.90205, 0.9009, 0.8998, 0.8976, 0.8965],
                           "labels": false, "tickColor": "#ffffff", "tickSize": 4, "title": null}},
            "y2": {"field": "b"}
          }
        },
        {
          "data": {"name": "cloud"},
          "mark": {"type": "line", "color": "#dcc4bc", "strokeDash": [2, 2], "strokeWidth": 1},
          "encoding": {
            "x": {"field": "i", "type": "quantitative", "scale": {"domain": [-0.25, 233.75], "nice": false, "zero": false}, "axis": null},
            "y": {"field": "a", "type": "quantitative", "title": null, "scale": {"domain": [0.896365, 0.912401], "nice": false, "zero": false}}
          }
        },
        {
          "data": {"name": "cloud"},
          "mark": {"type": "line", "color": "#dcc4bc", "strokeDash": [2, 2], "strokeWidth": 1},
          "encoding": {
            "x": {"field": "i", "type": "quantitative", "scale": {"domain": [-0.25, 233.75], "nice": false, "zero": false}, "axis": null},
            "y": {"field": "b", "type": "quantitative", "title": null, "scale": {"domain": [0.896365, 0.912401], "nice": false, "zero": false}}
          }
        },
        {
          "data": {"values": [{"p": 0.91019}, {"p": 0.90298}, {"p": 0.89875}]},
          "mark": {"type": "rule", "color": "#c80000", "strokeWidth": 1},
          "encoding": {
            "y": {"field": "p", "type": "quantitative", "title": null, "scale": {"domain": [0.896365, 0.912401], "nice": false, "zero": false}}
          }
        },
        {
          "data": {"values": [{"p": 0.90882}]},
          "mark": {"type": "rule", "color": "#a0a0a0", "strokeWidth": 1},
          "encoding": {
            "y": {"field": "p", "type": "quantitative", "title": null, "scale": {"domain": [0.896365, 0.912401], "nice": false, "zero": false}}
          }
        },
        {
          "data": {"values": [{"i": -0.25, "p": 0.89903}, {"i": 167.1, "p": 0.9106}]},
          "mark": {"type": "line", "color": "#c80000", "strokeWidth": 1},
          "encoding": {
            "x": {"field": "i", "type": "quantitative", "scale": {"domain": [-0.25, 233.75], "nice": false, "zero": false}, "axis": null},
            "y": {"field": "p", "type": "quantitative", "title": null, "scale": {"domain": [0.896365, 0.912401], "nice": false, "zero": false}}
          }
        },
        {
          "data": {"name": "bars"},
          "mark": {"type": "line", "color": "#e01010", "strokeWidth": 1},
          "encoding": {
            "x": {"field": "i", "type": "quantitative", "scale": {"domain": [-0.25, 233.75], "nice": false, "zero": false}, "axis": null},
            "y": {"field": "tk", "type": "quantitative", "title": null, "scale": {"domain": [0.896365, 0.912401], "nice": false, "zero": false}}
          }
        },
        {
          "data": {"name": "bars"},
          "mark": {"type": "line", "color": "#2020e0", "strokeWidth": 1},
          "encoding": {
            "x": {"field": "i", "type": "quantitative", "scale": {"domain": [-0.25, 233.75], "nice": false, "zero": false}, "axis": null},
            "y": {"field": "kj", "type": "quantitative", "title": null, "scale": {"domain": [0.896365, 0.912401], "nice": false, "zero": false}}
          }
        },
        {
          "data": {"name": "bars"},
          "mark": {"type": "line", "color": "#3cc83c", "strokeWidth": 1},
          "encoding": {
            "x": {"field": "i", "type": "quantitative", "scale": {"domain": [-0.25, 233.75], "nice": false, "zero": false}, "axis": null},
            "y": {"field": "ck", "type": "quantitative", "title": null, "scale": {"domain": [0.896365, 0.912401], "nice": false, "zero": false}}
          }
        },
        {
          "data": {"name": "bars"},
          "mark": {"type": "rule", "color": "#00ff00", "strokeWidth": 1},
          "encoding": {
            "x": {"field": "i", "type": "quantitative", "scale": {"domain": [-0.25, 233.75], "nice": false, "zero": false}, "axis": null},
            "y": {"field": "l", "type": "quantitative", "title": null, "scale": {"domain": [0.896365, 0.912401], "nice": false, "zero": false}},
            "y2": {"field": "h"}
          }
        },
        {
          "data": {"name": "bars"},
          "mark": {"type": "bar", "width": 5, "stroke": "#00ff00", "strokeWidth": 1},
          "encoding": {
            "x": {"field": "i", "type": "quantitative", "scale": {"domain": [-0.25, 233.75], "nice": false, "zero": false}, "axis": null},
            "y": {"field": "o", "type": "quantitative", "title": null, "scale": {"domain": [0.896365, 0.912401], "nice": false, "zero": false}},
            "y2": {"field": "c"},
            "fill": {"condition": {"test": "datum.c > datum.o", "value": "#000000"}, "value": "#eaffea"}
          }
        },
        {
          "data": {"values": [
            {"g": "a", "k": 0, "i": 3.6, "p": 0.89947}, {"g": "a", "k": 1, "i": 164.6, "p": 0.91061},
            {"g": "b", "k": 0, "i": 186.25, "p": 0.90878}, {"g": "b", "k": 1, "i": 191.25, "p": 0.90684},
            {"g": "b", "k": 2, "i": 198.6, "p": 0.90771}, {"g": "b", "k": 3, "i": 209.9, "p": 0.90292},
            {"g": "b", "k": 4, "i": 222.9, "p": 0.90386}, {"g": "b", "k": 5, "i": 228.5, "p": 0.89853}
          ]},
          "mark": {"type": "line", "color": "#ffff00", "strokeWidth": 4.5, "strokeCap": "round", "strokeJoin": "round"},
          "encoding": {
            "x": {"field": "i", "type": "quantitative", "scale": {"domain": [-0.25, 233.75], "nice": false, "zero": false}, "axis": null},
            "y": {"field": "p", "type": "quantitative", "title": null, "scale": {"domain": [0.896365, 0.912401], "nice": false, "zero": false}},
            "detail": {"field": "g"},
            "order": {"field": "k"}
          }
        },
        {
          "data": {"values": [{"i": 184.75, "p": 0.90949}]},
          "mark": {"type": "point", "shape": "M-1,0C-1,-0.569,-0.552,-1.03,0,-1.03C0.552,-1.03,1,-0.569,1,0C1,0.569,0.552,1.03,0,1.03C-0.552,1.03,-1,0.569,-1,0Z", "size": 4096, "filled": false, "stroke": "#ffff00", "strokeWidth": 4, "opacity": 1},
          "encoding": {
            "x": {"field": "i", "type": "quantitative", "scale": {"domain": [-0.25, 233.75], "nice": false, "zero": false}, "axis": null},
            "y": {"field": "p", "type": "quantitative", "title": null, "scale": {"domain": [0.896365, 0.912401], "nice": false, "zero": false}}
          }
        },
        {
          "data": {"values": [{"i": 209.9, "p": 0.90297}]},
          "mark": {"type": "point", "shape": "M-1,0C-1,-0.53,-0.552,-0.96,0,-0.96C0.552,-0.96,1,-0.53,1,0C1,0.53,0.552,0.96,0,0.96C-0.552,0.96,-1,0.53,-1,0Z", "size": 3025, "filled": false, "stroke": "#ffff00", "strokeWidth": 4, "opacity": 1},
          "encoding": {
            "x": {"field": "i", "type": "quantitative", "scale": {"domain": [-0.25, 233.75], "nice": false, "zero": false}, "axis": null},
            "y": {"field": "p", "type": "quantitative", "title": null, "scale": {"domain": [0.896365, 0.912401], "nice": false, "zero": false}}
          }
        },
        {
          "data": {"values": [{"i": 228.1, "p": 0.8987}]},
          "mark": {"type": "point", "shape": "M-1,0C-1,-0.778,-0.552,-1.41,0,-1.41C0.552,-1.41,1,-0.778,1,0C1,0.778,0.552,1.41,0,1.41C-0.552,1.41,-1,0.778,-1,0Z", "size": 1156, "filled": false, "stroke": "#ffff00", "strokeWidth": 4, "opacity": 1},
          "encoding": {
            "x": {"field": "i", "type": "quantitative", "scale": {"domain": [-0.25, 233.75], "nice": false, "zero": false}, "axis": null},
            "y": {"field": "p", "type": "quantitative", "title": null, "scale": {"domain": [0.896365, 0.912401], "nice": false, "zero": false}}
          }
        },
        {
          "data": {"values": [{"i": 0.4, "p": 0.9121, "t": "▼ USDCHF,H1  0.90909 0.90947 0.90869 0.90882"}]},
          "mark": {"type": "text", "align": "left", "baseline": "middle", "fontSize": 9.5, "color": "#ffffff"},
          "encoding": {
            "x": {"field": "i", "type": "quantitative", "scale": {"domain": [-0.25, 233.75], "nice": false, "zero": false}, "axis": null},
            "y": {"field": "p", "type": "quantitative", "title": null, "scale": {"domain": [0.896365, 0.912401], "nice": false, "zero": false}},
            "text": {"field": "t"}
          }
        },
        {
          "data": {"values": [{"i": 167, "p": 0.9113, "t": "2083"}]},
          "mark": {"type": "text", "align": "center", "baseline": "middle", "fontSize": 11, "color": "#70b8d8"},
          "encoding": {
            "x": {"field": "i", "type": "quantitative", "scale": {"domain": [-0.25, 233.75], "nice": false, "zero": false}, "axis": null},
            "y": {"field": "p", "type": "quantitative", "title": null, "scale": {"domain": [0.896365, 0.912401], "nice": false, "zero": false}},
            "text": {"field": "t"}
          }
        },
        {
          "data": {"values": [{"i": 186.75, "p": 0.91222, "t": "▼"}]},
          "mark": {"type": "text", "align": "center", "baseline": "middle", "fontSize": 8, "color": "#909090"},
          "encoding": {
            "x": {"field": "i", "type": "quantitative", "scale": {"domain": [-0.25, 233.75], "nice": false, "zero": false}, "axis": null},
            "y": {"field": "p", "type": "quantitative", "title": null, "scale": {"domain": [0.896365, 0.912401], "nice": false, "zero": false}},
            "text": {"field": "t"}
          }
        },
        {
          "data": {"values": [{"p": 0.9121}, {"p": 0.911}, {"p": 0.9099}, {"p": 0.90765}, {"p": 0.9065}, {"p": 0.9054}, {"p": 0.90425}, {"p": 0.90315}, {"p": 0.90205}, {"p": 0.9009}, {"p": 0.8998}, {"p": 0.8976}, {"p": 0.8965}]},
          "mark": {"type": "text", "align": "left", "baseline": "middle", "fontSize": 9.5, "color": "#ffffff", "clip": false},
          "encoding": {
            "x": {"datum": 234.4, "type": "quantitative", "scale": {"domain": [-0.25, 233.75], "nice": false, "zero": false}, "axis": null},
            "y": {"field": "p", "type": "quantitative", "title": null, "scale": {"domain": [0.896365, 0.912401], "nice": false, "zero": false}},
            "text": {"field": "p", "type": "quantitative", "format": ".5f"}
          }
        },
        {
          "data": {"values": [{"i": 236.5, "p": 0.91019}, {"i": 236.5, "p": 0.90298}, {"i": 236.5, "p": 0.89875}]},
          "mark": {"type": "point", "shape": "M-1,-0.3H1V0.3H-1Z", "size": 1600, "filled": true, "color": "#dd1111", "opacity": 1, "clip": false},
          "encoding": {
            "x": {"field": "i", "type": "quantitative", "scale": {"domain": [-0.25, 233.75], "nice": false, "zero": false}, "axis": null},
            "y": {"field": "p", "type": "quantitative", "title": null, "scale": {"domain": [0.896365, 0.912401], "nice": false, "zero": false}}
          }
        },
        {
          "data": {"values": [{"i": 236.5, "p": 0.91019}, {"i": 236.5, "p": 0.90298}, {"i": 236.5, "p": 0.89875}]},
          "mark": {"type": "text", "align": "center", "baseline": "middle", "fontSize": 9.5, "color": "#7a0000", "clip": false},
          "encoding": {
            "x": {"field": "i", "type": "quantitative", "scale": {"domain": [-0.25, 233.75], "nice": false, "zero": false}, "axis": null},
            "y": {"field": "p", "type": "quantitative", "title": null, "scale": {"domain": [0.896365, 0.912401], "nice": false, "zero": false}},
            "text": {"field": "p", "type": "quantitative", "format": ".5f"}
          }
        },
        {
          "data": {"values": [{"i": 236.5, "p": 0.90882}]},
          "mark": {"type": "point", "shape": "M-1,-0.3H1V0.3H-1Z", "size": 1600, "filled": true, "color": "#ffffff", "opacity": 1, "clip": false},
          "encoding": {
            "x": {"field": "i", "type": "quantitative", "scale": {"domain": [-0.25, 233.75], "nice": false, "zero": false}, "axis": null},
            "y": {"field": "p", "type": "quantitative", "title": null, "scale": {"domain": [0.896365, 0.912401], "nice": false, "zero": false}}
          }
        },
        {
          "data": {"values": [{"i": 236.5, "p": 0.90882}]},
          "mark": {"type": "text", "align": "center", "baseline": "middle", "fontSize": 9.5, "color": "#000000", "clip": false},
          "encoding": {
            "x": {"field": "i", "type": "quantitative", "scale": {"domain": [-0.25, 233.75], "nice": false, "zero": false}, "axis": null},
            "y": {"field": "p", "type": "quantitative", "title": null, "scale": {"domain": [0.896365, 0.912401], "nice": false, "zero": false}},
            "text": {"field": "p", "type": "quantitative", "format": ".5f"}
          }
        }
      ]
    },
    {
      "width": 1872,
      "height": 203,
      "view": {"fill": "#000000", "stroke": "#ffffff", "strokeWidth": 1},
      "layer": [
        {
          "data": {"values": [{"v": 80}, {"v": 20}]},
          "mark": {"type": "rule", "color": "#c8c8c8", "strokeDash": [4, 3], "strokeWidth": 1},
          "encoding": {
            "y": {"field": "v", "type": "quantitative", "title": null, "scale": {"domain": [0, 100], "nice": false, "zero": false},
                  "axis": {"orient": "right", "values": [0, 20, 30, 50, 70, 80, 100], "labels": false, "tickColor": "#ffffff", "tickSize": 4, "title": null}}
          }
        },
        {
          "data": {"values": [{"v": 70}, {"v": 50}, {"v": 30}]},
          "mark": {"type": "rule", "color": "#6a6a6a", "strokeDash": [4, 3], "strokeWidth": 1},
          "encoding": {
            "y": {"field": "v", "type": "quantitative", "title": null, "scale": {"domain": [0, 100], "nice": false, "zero": false}}
          }
        },
        {
          "data": {"name": "sts"},
          "mark": {"type": "line", "color": "#d01818", "strokeDash": [2, 2], "strokeWidth": 1},
          "encoding": {
            "x": {"field": "i", "type": "quantitative", "title": null, "scale": {"domain": [-0.25, 233.75], "nice": false, "zero": false},
                  "axis": {"orient": "bottom", "values": [0, 8, 16, 24, 32, 40, 48, 56, 64, 72, 80, 88, 96, 104, 112, 120, 128, 136, 144, 152, 160, 168, 176, 184],
                           "labelExpr": "['21 Jul 2014','22 Jul 04:00','22 Jul 12:00','22 Jul 20:00','23 Jul 04:00','23 Jul 12:00','23 Jul 20:00','24 Jul 04:00','24 Jul 12:00','24 Jul 20:00','25 Jul 04:00','25 Jul 12:00','25 Jul 20:00','28 Jul 04:00','28 Jul 12:00','28 Jul 20:00','29 Jul 04:00','29 Jul 12:00','29 Jul 20:00','30 Jul 04:00','30 Jul 12:00','30 Jul 20:00','31 Jul 04:00','31 Jul 12:00'][round(datum.value / 8)]",
                           "labelAlign": "left", "labelOffset": -2, "tickColor": "#909090", "tickSize": 3, "labelPadding": 2, "title": null, "labelFlush": false, "labelOverlap": false, "labelBound": false}},
            "y": {"field": "v", "type": "quantitative", "title": null, "scale": {"domain": [0, 100], "nice": false, "zero": false}}
          }
        },
        {
          "data": {"name": "stm"},
          "mark": {"type": "line", "color": "#7fb0b0", "strokeWidth": 1},
          "encoding": {
            "x": {"field": "i", "type": "quantitative", "title": null, "scale": {"domain": [-0.25, 233.75], "nice": false, "zero": false}},
            "y": {"field": "v", "type": "quantitative", "title": null, "scale": {"domain": [0, 100], "nice": false, "zero": false}}
          }
        },
        {
          "data": {"name": "rsi"},
          "mark": {"type": "line", "color": "#3a5656", "strokeWidth": 2.5},
          "encoding": {
            "x": {"field": "i", "type": "quantitative", "title": null, "scale": {"domain": [-0.25, 233.75], "nice": false, "zero": false}},
            "y": {"field": "v", "type": "quantitative", "title": null, "scale": {"domain": [0, 100], "nice": false, "zero": false}}
          }
        },
        {
          "data": {"name": "rsihi"},
          "mark": {"type": "line", "color": "#44dd44", "strokeWidth": 2.5},
          "encoding": {
            "x": {"field": "i", "type": "quantitative", "title": null, "scale": {"domain": [-0.25, 233.75], "nice": false, "zero": false}},
            "y": {"field": "v", "type": "quantitative", "title": null, "scale": {"domain": [0, 100], "nice": false, "zero": false}},
            "detail": {"field": "s"}
          }
        },
        {
          "data": {"values": [
            {"i": 186.2, "v": 56}, {"i": 190.3, "v": 24.6}, {"i": 200.6, "v": 36.7}, {"i": 204.6, "v": 0.6},
            {"i": 213.7, "v": 25.3}, {"i": 217.6, "v": -0.2}, {"i": 225.8, "v": 24.5}, {"i": 231.1, "v": -1.8}
          ]},
          "mark": {"type": "line", "color": "#ffff00", "strokeWidth": 4.5, "strokeCap": "round", "strokeJoin": "round", "clip": false},
          "encoding": {
            "x": {"field": "i", "type": "quantitative", "title": null, "scale": {"domain": [-0.25, 233.75], "nice": false, "zero": false}},
            "y": {"field": "v", "type": "quantitative", "title": null, "scale": {"domain": [0, 100], "nice": false, "zero": false}}
          }
        },
        {
          "data": {"values": [{"v": 20}, {"v": 30}, {"v": 50}, {"v": 70}, {"v": 80}]},
          "mark": {"type": "text", "align": "left", "baseline": "middle", "fontSize": 9.5, "color": "#ffffff", "clip": false},
          "encoding": {
            "x": {"datum": 234.4, "type": "quantitative", "title": null, "scale": {"domain": [-0.25, 233.75], "nice": false, "zero": false}},
            "y": {"field": "v", "type": "quantitative", "title": null, "scale": {"domain": [0, 100], "nice": false, "zero": false}},
            "text": {"field": "v", "type": "quantitative", "format": "d"}
          }
        },
        {
          "data": {"values": [{"v": 100}]},
          "mark": {"type": "text", "align": "left", "baseline": "top", "dy": 1, "fontSize": 9.5, "color": "#ffffff", "clip": false},
          "encoding": {
            "x": {"datum": 234.4, "type": "quantitative", "title": null, "scale": {"domain": [-0.25, 233.75], "nice": false, "zero": false}},
            "y": {"field": "v", "type": "quantitative", "title": null, "scale": {"domain": [0, 100], "nice": false, "zero": false}},
            "text": {"field": "v", "type": "quantitative", "format": "d"}
          }
        },
        {
          "data": {"values": [{"v": 0}]},
          "mark": {"type": "text", "align": "left", "baseline": "bottom", "dy": -1, "fontSize": 9.5, "color": "#ffffff", "clip": false},
          "encoding": {
            "x": {"datum": 234.4, "type": "quantitative", "title": null, "scale": {"domain": [-0.25, 233.75], "nice": false, "zero": false}},
            "y": {"field": "v", "type": "quantitative", "title": null, "scale": {"domain": [0, 100], "nice": false, "zero": false}},
            "text": {"field": "v", "type": "quantitative", "format": "d"}
          }
        },
        {
          "data": {"values": [{"i": 0.4, "v": 95.2, "t": "RSI (14) Typical | 77,22: 56.6725  Stoch(50,5,3) 73.9540 73.7609"}]},
          "mark": {"type": "text", "align": "left", "baseline": "middle", "fontSize": 9.5, "color": "#ffffff"},
          "encoding": {
            "x": {"field": "i", "type": "quantitative", "title": null, "scale": {"domain": [-0.25, 233.75], "nice": false, "zero": false}},
            "y": {"field": "v", "type": "quantitative", "title": null, "scale": {"domain": [0, 100], "nice": false, "zero": false}},
            "text": {"field": "t"}
          }
        }
      ]
    },
    {
      "width": 1917,
      "height": 18,
      "view": {"fill": "#f0f0f0", "stroke": null},
      "data": {"name": "tabs"},
      "encoding": {
        "x": {"field": "t", "type": "nominal", "sort": null, "axis": null, "scale": {"range": [0, 1842], "paddingInner": 0, "paddingOuter": 0}}
      },
      "layer": [
        {
          "mark": {"type": "bar", "stroke": "#a0a0a0", "strokeWidth": 1},
          "encoding": {
            "fill": {"condition": {"test": "datum.t == 'USDCHF,H1'", "value": "#ffffff"}, "value": "#ececec"}
          }
        },
        {
          "mark": {"type": "text", "fontSize": 10, "color": "#404040"},
          "encoding": {"text": {"field": "t"}}
        }
      ]
    }
  ]
}
